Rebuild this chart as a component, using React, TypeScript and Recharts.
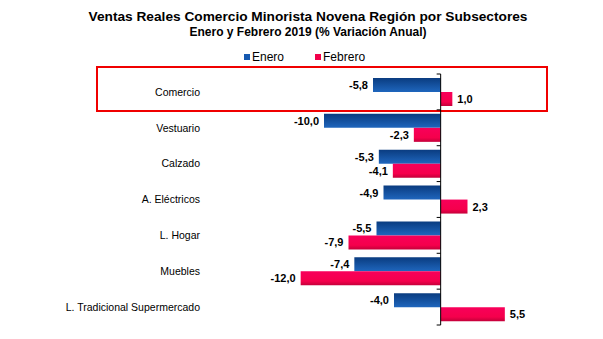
import { Bar, BarChart, LabelList, ReferenceLine, XAxis, YAxis } from "recharts";

const subsectores = [
  "Comercio",
  "Vestuario",
  "Calzado",
  "A. Eléctricos",
  "L. Hogar",
  "Muebles",
  "L. Tradicional Supermercado",
];
const enero = [-5.8, -10.0, -5.3, -4.9, -5.5, -7.4, -4.0];
const febrero = [1.0, -2.3, -4.1, 2.3, -7.9, -12.0, 5.5];

const data = subsectores.map((name, i) => ({
  name,
  enero: enero[i],
  febrero: febrero[i],
}));

const formatValue = (v: unknown) => Number(v).toFixed(1).replace(".", ",");

// label sits outside the bar end: left for negatives, right for positives
function ValueLabel(props: any) {
  const { x, y, width, height, value } = props;
  const neg = Number(value) < 0;
  const endX = x + width;
  const tx = neg ? Math.min(x, endX) - 5 : Math.max(x, endX) + 5;
  return (
    <text
      x={tx}
      y={y + height / 2}
      dy={4}
      textAnchor={neg ? "end" : "start"}
      fontSize={11}
      fontWeight="bold"
      fill="#000"
    >
      {formatValue(value)}
    </text>
  );
}

// zero axis line with tick marks on the category boundaries
function ZeroAxis(props: any) {
  const { x1, y1, y2 } = props;
  const n = subsectores.length;
  const step = (y2 - y1) / n;
  return (
    <g>
      <line x1={x1} x2={x1} y1={y1} y2={y2} stroke="#000" strokeWidth={1} />
      {Array.from({ length: n + 1 }, (_, i) => (
        <line
          key={i}
          x1={x1 - 4}
          x2={x1}
          y1={y1 + step * i}
          y2={y1 + step * i}
          stroke="#000"
          strokeWidth={1}
        />
      ))}
    </g>
  );
}

export default function App() {
  return (
    <div
      style={{
        position: "fixed",
        left: 0,
        top: 0,
        width: 603,
        height: 339,
        background: "#fff",
        fontFamily: "Arial, 'Liberation Sans', sans-serif",
      }}
    >
      <div
        style={{
          position: "absolute",
          top: 8,
          width: 616,
          textAlign: "center",
          fontSize: 13.7,
          fontWeight: "bold",
          lineHeight: "18px",
        }}
      >
        Ventas Reales Comercio Minorista Novena Región por Subsectores
      </div>
      <div
        style={{
          position: "absolute",
          top: 25,
          width: 616,
          textAlign: "center",
          fontSize: 12,
          fontWeight: "bold",
          lineHeight: "15px",
        }}
      >
        Enero y Febrero 2019 (% Variación Anual)
      </div>
      <div
        style={{
          position: "absolute",
          top: 50,
          left: 244,
          fontSize: 12,
          lineHeight: "14px",
          display: "flex",
          alignItems: "center",
        }}
      >
        <span style={{ width: 6, height: 6, background: "#1559b0", marginRight: 2 }} />
        <span style={{ marginRight: 31 }}>Enero</span>
        <span style={{ width: 6, height: 6, background: "#f2004a", marginRight: 2 }} />
        <span>Febrero</span>
      </div>
      <div
        style={{
          position: "absolute",
          left: 96,
          top: 66,
          width: 448,
          height: 42,
          border: "2px solid #f00000",
        }}
      />
      <BarChart
        width={603}
        height={339}
        data={data}
        layout="vertical"
        margin={{ top: 74, right: 69, bottom: 14, left: 54 }}
        barCategoryGap={4}
        barGap={0}
        style={{ position: "absolute", left: 0, top: 0 }}
      >
        <defs>
          <linearGradient id="gBlue" x1="0" y1="0" x2="0" y2="1">
            <stop offset="0%" stopColor="#0a3c80" />
            <stop offset="100%" stopColor="#1f66bd" />
          </linearGradient>
          <linearGradient id="gRed" x1="0" y1="0" x2="0" y2="1">
            <stop offset="0%" stopColor="#f8005a" />
            <stop offset="70%" stopColor="#f5004c" />
            <stop offset="100%" stopColor="#c4003a" />
          </linearGradient>
        </defs>
        <XAxis type="number" domain={[-16, 8]} hide />
        <YAxis
          type="category"
          dataKey="name"
          width={200}
          axisLine={false}
          tickLine={false}
          tickSize={0}
          tickMargin={54}
          tick={{ fill: "#000", fontSize: 10.5 }}
          interval={0}
        />
        <Bar dataKey="enero" fill="url(#gBlue)" isAnimationActive={false}>
          <LabelList dataKey="enero" content={<ValueLabel />} />
        </Bar>
        <Bar dataKey="febrero" fill="url(#gRed)" isAnimationActive={false}>
          <LabelList dataKey="febrero" content={<ValueLabel />} />
        </Bar>
        <ReferenceLine x={0} shape={<ZeroAxis />} />
      </BarChart>
    </div>
  );
}
